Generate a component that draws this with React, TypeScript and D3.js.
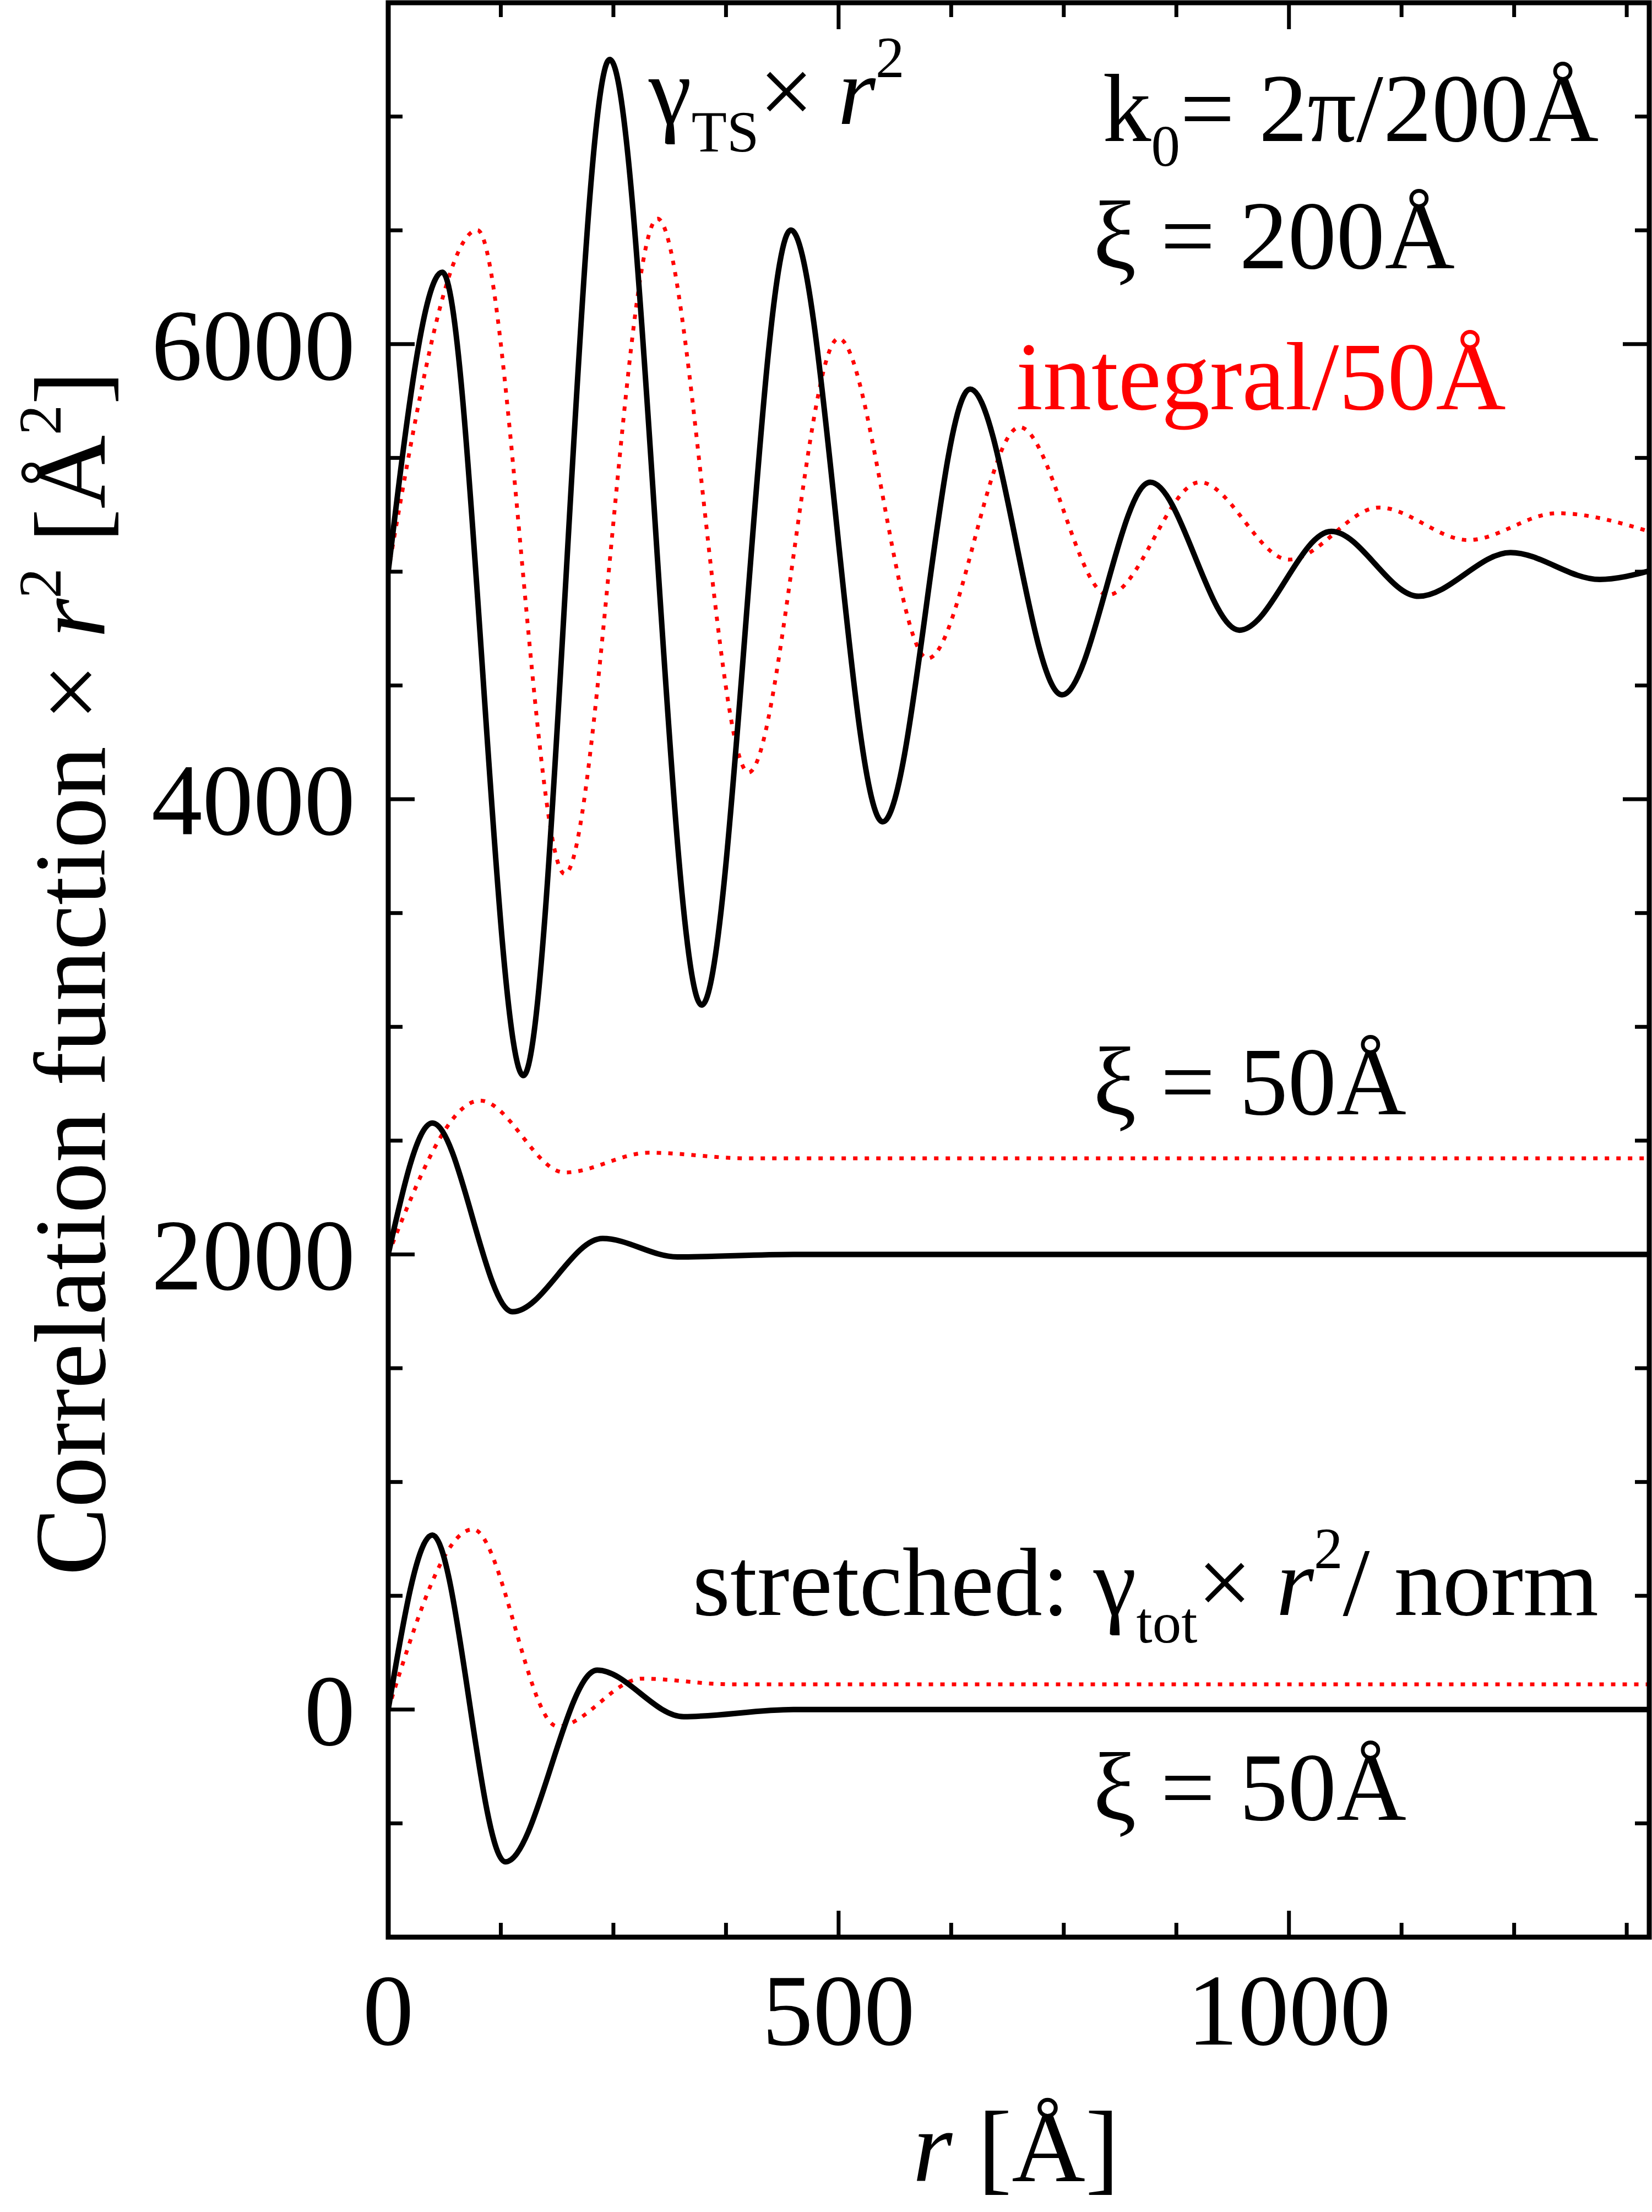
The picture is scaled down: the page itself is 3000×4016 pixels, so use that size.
import React from "react";
import * as d3 from "d3";

// r [Å], value (offsets included as drawn)
const topBlackR = [0, 60, 150, 246, 348, 447, 549, 646, 748, 846, 945, 1047, 1144, 1246, 1345, 1400];
const topBlackV = [5000, 6316, 2786, 7251, 3096, 6501, 3901, 5802, 4459, 5393, 4743, 5177, 4892, 5084, 4966, 5003];
const topRedR = [0, 99, 196, 299, 400, 500, 599, 701, 799, 901, 1000, 1100, 1199, 1298, 1400];
const topRedV = [5000, 6501, 3672, 6551, 4118, 6025, 4619, 5635, 4898, 5393, 5053, 5282, 5139, 5257, 5177];
const midBlackR = [0, 49, 138, 238, 321, 450, 1400];
const midBlackV = [2000, 2577, 1748, 2070, 1989, 2000, 2000];
const midRedR = [0, 102, 196, 290, 400, 1400];
const midRedV = [2000, 2676, 2360, 2447, 2422, 2422];
const botBlackR = [0, 49, 130, 232, 328, 450, 1400];
const botBlackV = [0, 767, -669, 173, -31, 0, 0];
const botRedR = [0, 94, 188, 282, 380, 1400];
const botRedV = [0, 792, -74, 136, 111, 111];

const xTicks = [0, 500, 1000];
const yTicks = [0, 2000, 4000, 6000];

const W = 3000, H = 4016;
const L = 705, R = 2995, T = 5, B = 3517;
const FONT = "'Liberation Serif', 'Times New Roman', serif";

export default function App() {
  const x = d3.scaleLinear().domain([0, 1400]).range([L, R]);
  const y = d3.scaleLinear().domain([-1000, 7500]).range([B, T]);
  const line = d3.line<[number, number]>().x(d => x(d[0])).y(d => y(d[1])).curve(d3.curveMonotoneX);
  const mk = (rs: number[], vs: number[]) => line(rs.map((r, i) => [r, vs[i]] as [number, number])) || "";
  const minorX = d3.range(0, 1401, 125);
  const minorY = d3.range(-1000, 7501, 500);
  const fs = 185;
  const afs = 176;
  const dash = "8,13";
  return (
    <svg width={W} height={H} style={{ position: "absolute", left: 0, top: 0, background: "#fff" }} fontFamily={FONT}>
      <defs>
        <clipPath id="c"><rect x={L} y={T} width={R - L} height={B - T} /></clipPath>
      </defs>
      <g clipPath="url(#c)" fill="none">
        <path d={mk(topRedR, topRedV)} stroke="#ff0000" strokeWidth={7} strokeDasharray={dash} />
        <path d={mk(midRedR, midRedV)} stroke="#ff0000" strokeWidth={7} strokeDasharray={dash} />
        <path d={mk(botRedR, botRedV)} stroke="#ff0000" strokeWidth={7} strokeDasharray={dash} />
        <path d={mk(topBlackR, topBlackV)} stroke="#000" strokeWidth={10} />
        <path d={mk(midBlackR, midBlackV)} stroke="#000" strokeWidth={10} />
        <path d={mk(botBlackR, botBlackV)} stroke="#000" strokeWidth={10} />
      </g>
      {minorX.map(v => {
        const len = v % 500 === 0 ? 48 : 26;
        return (
          <g key={"x" + v} stroke="#000" strokeWidth={7}>
            <line x1={x(v)} x2={x(v)} y1={B} y2={B - len} />
            <line x1={x(v)} x2={x(v)} y1={T} y2={T + len} />
          </g>
        );
      })}
      {minorY.map(v => {
        const len = v % 2000 === 0 ? 48 : 26;
        return (
          <g key={"y" + v} stroke="#000" strokeWidth={7}>
            <line x1={L} x2={L + len} y1={y(v)} y2={y(v)} />
            <line x1={R} x2={R - len} y1={y(v)} y2={y(v)} />
          </g>
        );
      })}
      <rect x={L} y={T} width={R - L} height={B - T} fill="none" stroke="#000" strokeWidth={9} />
      {xTicks.map(v => (
        <text key={"xl" + v} x={x(v)} y={3712} fontSize={fs} textAnchor="middle">{v}</text>
      ))}
      {yTicks.map(v => (
        <text key={"yl" + v} x={645} y={y(v) + 64} fontSize={fs} textAnchor="end">{v}</text>
      ))}
      <text x={1845} y={3960} fontSize={fs} textAnchor="middle"><tspan fontStyle="italic">r</tspan> [Å]</text>
      <text transform={`translate(190,1767) rotate(-90)`} fontSize={fs} textAnchor="middle">
        Correlation function × <tspan fontStyle="italic">r</tspan><tspan dy={-80} fontSize={110}>2</tspan><tspan dy={80}> [Å</tspan><tspan dy={-80} fontSize={110}>2</tspan><tspan dy={80}>]</tspan>
      </text>
      <text x={1178} y={225} fontSize={afs}>γ<tspan fontSize={105} dy={50}>TS</tspan><tspan dy={-50}>× </tspan><tspan fontStyle="italic">r</tspan><tspan fontSize={105} dy={-85}>2</tspan></text>
      <text x={2903} y={256} fontSize={afs} textAnchor="end">k<tspan fontSize={105} dy={45}>0</tspan><tspan dy={-45}>= 2π/200Å</tspan></text>
      <text x={1985} y={487} fontSize={afs}>ξ = 200Å</text>
      <text x={1845} y={743} fontSize={afs} fill="#ff0000">integral/50Å</text>
      <text x={1985} y={2023} fontSize={afs}>ξ = 50Å</text>
      <text x={2903} y={2932} fontSize={afs} textAnchor="end">stretched: γ<tspan fontSize={105} dy={50}>tot</tspan><tspan dy={-50}>× </tspan><tspan fontStyle="italic">r</tspan><tspan fontSize={105} dy={-85}>2</tspan><tspan dy={85}>/ norm</tspan></text>
      <text x={1985} y={3304} fontSize={afs}>ξ = 50Å</text>
    </svg>
  );
}
